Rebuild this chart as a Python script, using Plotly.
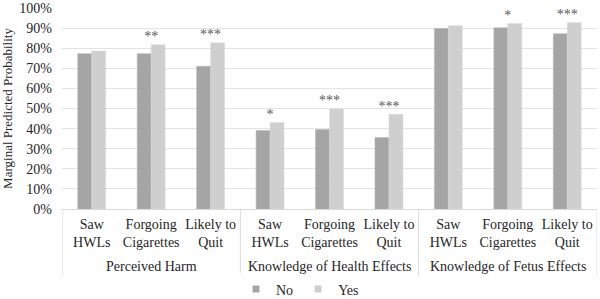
import plotly.graph_objects as go

group_names = ["Perceived Harm", "Knowledge of Health Effects", "Knowledge of Fetus Effects"]
measures = ["Saw<br>HWLs", "Forgoing<br>Cigarettes", "Likely to<br>Quit"]
categories = [f"{g}|{m}" for g in group_names for m in measures]
tick_labels = measures * 3
no_vals = [0.773, 0.773, 0.710, 0.390, 0.395, 0.356, 0.898, 0.902, 0.872]
yes_vals = [0.786, 0.817, 0.827, 0.430, 0.498, 0.471, 0.912, 0.923, 0.928]
stars = ["", "**", "***", "*", "***", "***", "", "*", "***"]
y_ticks = [i / 10 for i in range(11)]
y_ticktext = [f"{i * 10}%" for i in range(11)]

FONT = "Liberation Serif, Times New Roman, serif"
TXT = "#262626"
NO_C = "#a5a5a5"
YES_C = "#cfcfcf"
DIV_C = "#d9d9d9"

fig = go.Figure()
fig.add_trace(go.Bar(name="No", x=categories, y=no_vals, showlegend=False,
                     marker=dict(color=NO_C, line=dict(color="#b4b4b4", width=0.5))))
fig.add_trace(go.Bar(name="Yes", x=categories, y=yes_vals, showlegend=False,
                     marker=dict(color=YES_C, line=dict(color="#dadada", width=0.5))))
fig.add_trace(go.Scatter(x=categories, y=yes_vals, mode="text", text=stars,
                         textposition="top center", showlegend=False, hoverinfo="skip",
                         textfont=dict(family=FONT, size=14, color="#595959")))
# legend entries (small squares like the original)
for nm, col in (("No", NO_C), ("Yes", YES_C)):
    fig.add_trace(go.Scatter(x=[None], y=[None], mode="markers", name=nm,
                             marker=dict(symbol="square", size=7, color=col)))

# group labels and dividers
n = len(measures)
for gi, g in enumerate(group_names):
    fig.add_annotation(x=gi * n + (n - 1) / 2, y=-0.284, xref="x", yref="paper",
                       text=g, showarrow=False, yanchor="middle",
                       font=dict(family=FONT, size=14, color=TXT))
for b in range(len(group_names) + 1):
    fig.add_shape(type="line", xref="x", yref="paper", x0=b * n - 0.5, x1=b * n - 0.5,
                  y0=0, y1=-0.333, line=dict(color=DIV_C, width=1))

fig.update_layout(
    width=600, height=299,
    margin=dict(l=62, r=3, t=8, b=90),
    barmode="group", bargap=0.53, bargroupgap=0.0,
    plot_bgcolor="white", paper_bgcolor="white",
    font=dict(family=FONT, size=14, color=TXT),
    legend=dict(orientation="h", x=0.5, xanchor="center", xref="container",
                y=0.032, yanchor="middle", yref="container",
                font=dict(family=FONT, size=14, color=TXT),
                itemwidth=30, traceorder="normal"),
    yaxis=dict(range=[0, 1], tickvals=y_ticks, ticktext=y_ticktext, automargin=False,
               showgrid=True, gridcolor="#e3e3e3", gridwidth=1.3, zeroline=False,
               ticks="", ticklabelstandoff=9,
               tickfont=dict(family=FONT, size=14, color=TXT),
               title=dict(text="Marginal Predicted Probability", standoff=4,
                          font=dict(family=FONT, size=13, color=TXT))),
    xaxis=dict(type="category", categoryorder="array", categoryarray=categories,
               range=[-0.5, len(categories) - 0.5],
               tickvals=categories, ticktext=tick_labels,
               showline=True, linecolor=DIV_C, linewidth=1,
               ticks="", tickangle=0, automargin=False, ticklabelstandoff=2,
               tickfont=dict(family=FONT, size=14, color=TXT)),
)

# remove the browser's default 8px body margin so the figure fills the window
fig.write_html("out.html", config={"displayModeBar": False},
               post_script="document.body.style.margin='0px';")
